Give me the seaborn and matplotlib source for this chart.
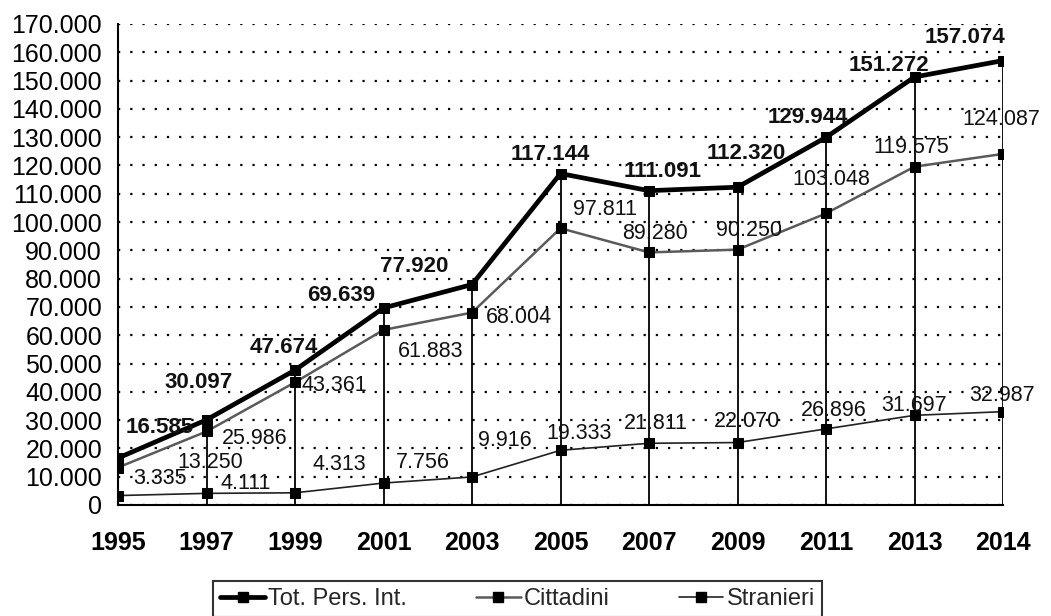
import matplotlib
matplotlib.use("Agg")
import matplotlib.pyplot as plt
import matplotlib.ticker as mticker
from matplotlib.lines import Line2D
import seaborn as sns
import pandas as pd

years = ["1995", "1997", "1999", "2001", "2003", "2005", "2007", "2009", "2011", "2013", "2014"]
tot = [16585, 30097, 47674, 69639, 77920, 117144, 111091, 112320, 129944, 151272, 157074]
cittadini = [13250, 25986, 43361, 61883, 68004, 97811, 89280, 90250, 103048, 119575, 124087]
stranieri = [3335, 4111, 4313, 7756, 9916, 19333, 21811, 22070, 26896, 31697, 32987]
series_names = ["Tot. Pers. Int.", "Cittadini", "Stranieri"]

# label offsets (pixels) relative to each point
tot_off = [(42, 31), (-8, 37), (-11, 23), (-42, 12), (-58, 18), (-10, 19), (14, 19), (9, 34), (-18, 20), (-26, 11), (-38, 23)]
citt_off = [(92, 5), (48, -7), (39, -3), (47, -22), (47, -5), (44, 19), (6, 19), (11, 19), (5, 34), (-3, 19), (-2, 34)]
stra_off = [(42, 17), (39, 10), (44, 28), (39, 21), (33, 36), (19, 17), (7, 20), (9, 21), (8, 18), (0, 10), (-1, 16)]

sns.set_theme(style="white")
plt.rcParams["font.family"] = ["Liberation Sans", "DejaVu Sans"]

fig = plt.figure(figsize=(10.51, 6.16), dpi=100)
ax = fig.add_axes([118 / 1051, (616 - 505) / 616, (1003 - 118) / 1051, (505 - 24) / 616])

df = pd.DataFrame({"year": years * 3,
                   "value": tot + cittadini + stranieri,
                   "serie": [series_names[0]] * 11 + [series_names[1]] * 11 + [series_names[2]] * 11})
xs = list(range(len(years)))

# drop lines
ax.vlines(xs, 0, tot, colors="black", linewidth=1.3, zorder=1)

styles = {
    series_names[0]: dict(color="black", lw=3.4),
    series_names[1]: dict(color="#5a5a5a", lw=1.8),
    series_names[2]: dict(color="#222222", lw=1.2),
}
for name in series_names:
    sub = df[df["serie"] == name]
    sns.lineplot(data=sub, x="year", y="value", ax=ax, sort=False,
                 color=styles[name]["color"], linewidth=styles[name]["lw"],
                 marker="s", markersize=7, markerfacecolor="black",
                 markeredgecolor="black", zorder=3, legend=False)

for vals, offs, bold in [(tot, tot_off, True), (cittadini, citt_off, False), (stranieri, stra_off, False)]:
    for i, v in enumerate(vals):
        txt = f"{v:,}".replace(",", ".")
        ax.annotate(txt, (i, v), xytext=offs[i], textcoords="offset pixels",
                    ha="center", va="center", fontsize=16 if bold else 15.5,
                    fontweight="bold" if bold else "normal", color="#111111", zorder=4)

ax.set_xlim(0, len(years) - 1)
ax.set_ylim(0, 170000)
ax.yaxis.set_major_locator(mticker.MultipleLocator(10000))
ax.yaxis.set_major_formatter(mticker.FuncFormatter(lambda v, p: f"{int(v):,}".replace(",", ".")))
ax.set_xticks(xs)
ax.set_xticklabels(years, fontsize=18, fontweight="bold")
ax.tick_params(axis="y", direction="inout", length=9, width=1.2, colors="black", pad=7, labelsize=18)
ax.tick_params(axis="x", direction="out", length=8, width=1.2, colors="black", pad=11, labelsize=18)
ax.set_xlabel("")
ax.set_ylabel("")

ax.yaxis.grid(True, color="black", linestyle=(0, (1, 4.5)), linewidth=1.6)
ax.xaxis.grid(False)
ax.set_axisbelow(True)
for s in ["top", "right"]:
    ax.spines[s].set_visible(False)
for s in ["left", "bottom"]:
    ax.spines[s].set_color("black")
    ax.spines[s].set_linewidth(1.5)

handles = [Line2D([], [], color=styles[n]["color"], lw=styles[n]["lw"], marker="s",
                  markersize=7, markerfacecolor="black", markeredgecolor="black") for n in series_names]
leg = fig.legend(handles, series_names, loc="upper left", bbox_to_anchor=(213 / 1051, (616 - 581) / 616),
                 ncol=3, fontsize=17, frameon=True, fancybox=False, edgecolor="black",
                 handlelength=1.9, columnspacing=2.9, handletextpad=0.15, borderpad=0.3,
                 borderaxespad=0)
leg.get_frame().set_linewidth(1.5)

fig.savefig("out.png", dpi=100, facecolor="white")
